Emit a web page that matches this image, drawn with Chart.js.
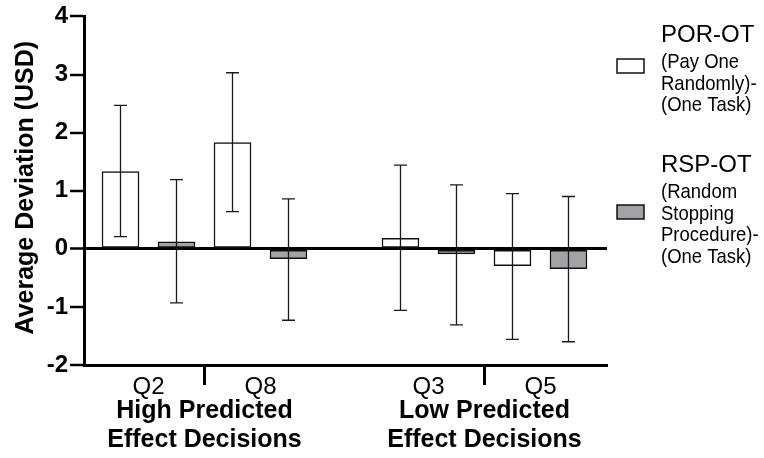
<!DOCTYPE html>
<html>
<head>
<meta charset="utf-8">
<script src="https://cdn.jsdelivr.net/npm/chart.js@4.4.1/dist/chart.umd.min.js"></script>
<style>
  html, body { margin: 0; padding: 0; background: #ffffff; }
  #wrap { width: 764px; height: 458px; }
</style>
</head>
<body>
<div id="wrap"><canvas id="c" width="764" height="458"></canvas></div>
<script>
// ---- data ----
const categories = ['Q2', 'Q8', 'Q3', 'Q5'];
const groupLabels = [['High Predicted', 'Effect Decisions'], ['Low Predicted', 'Effect Decisions']];
const seriesNames = ['POR-OT', 'RSP-OT'];
const seriesNotes = [['(Pay One', 'Randomly)-', '(One Task)'], ['(Random', 'Stopping', 'Procedure)-', '(One Task)']];
const porMean = [1.33, 1.83, 0.18, -0.29];
const porLow  = [0.21, 0.64, -1.06, -1.56];
const porHigh = [2.47, 3.03, 1.44, 0.95];
const rspMean = [0.12, -0.17, -0.09, -0.34];
const rspLow  = [-0.93, -1.23, -1.31, -1.60];
const rspHigh = [1.19, 0.86, 1.10, 0.90];
const yTicks = [-2, -1, 0, 1, 2, 3, 4];

// ---- layout helpers ----
const FONT = '"Liberation Sans", Arial, Helvetica, sans-serif';
const GRAY = '#a3a3a7';
// slot index for each category: pairs of bars, with one empty slot between the two groups
const slotOf = i => 2 * i + (i >= 2 ? 1 : 0);

const porData = categories.map((c, i) => ({ x: slotOf(i), y: porMean[i] }));
const rspData = categories.map((c, i) => ({ x: slotOf(i) + 1, y: rspMean[i] }));
const errs = [
  { low: porLow, high: porHigh },
  { low: rspLow, high: rspHigh }
];

const decorPlugin = {
  id: 'decor',
  afterDatasetsDraw(chart) {
    const ctx = chart.ctx;
    const ys = chart.scales.y;
    ctx.save();
    ctx.strokeStyle = '#1a1a1a';
    ctx.lineWidth = 1.3;
    chart.data.datasets.forEach((ds, di) => {
      const meta = chart.getDatasetMeta(di);
      meta.data.forEach((bar, i) => {
        const x = bar.x;
        const yl = ys.getPixelForValue(errs[di].low[i]);
        const yh = ys.getPixelForValue(errs[di].high[i]);
        ctx.beginPath();
        ctx.moveTo(x, yh); ctx.lineTo(x, yl);
        ctx.moveTo(x - 6.5, yh); ctx.lineTo(x + 6.5, yh);
        ctx.moveTo(x - 6.5, yl); ctx.lineTo(x + 6.5, yl);
        ctx.stroke();
      });
    });
    ctx.restore();
  },
  afterDraw(chart) {
    const ctx = chart.ctx;
    const xs = chart.scales.x;
    const area = chart.chartArea;
    ctx.save();
    ctx.fillStyle = '#000';
    ctx.font = '24px ' + FONT;
    ctx.textAlign = 'center';
    ctx.textBaseline = 'alphabetic';
    categories.forEach((c, i) => {
      ctx.fillText(c, xs.getPixelForValue(slotOf(i) + 0.5), area.bottom + 29);
    });
    [1, 3].forEach((gi, k) => {
      const xd = xs.getPixelForValue(slotOf(gi) - 0.5);
      ctx.strokeStyle = '#000';
      ctx.lineWidth = 3;
      ctx.beginPath();
      ctx.moveTo(xd, area.bottom);
      ctx.lineTo(xd, area.bottom + 20);
      ctx.stroke();
      ctx.font = 'bold 25px ' + FONT;
      ctx.fillText(groupLabels[k][0], xd, area.bottom + 53);
      ctx.fillText(groupLabels[k][1], xd, area.bottom + 82);
    });
    ctx.save();
    ctx.translate(33, (area.top + area.bottom) / 2 - 3);
    ctx.rotate(-Math.PI / 2);
    ctx.font = 'bold 25px ' + FONT;
    ctx.textAlign = 'center';
    ctx.fillText('Average Deviation (USD)', 0, 0);
    ctx.restore();
    const fills = ['#ffffff', GRAY];
    const boxTop = [59, 205];
    const titleBase = [42, 172];
    const noteBase = [68, 198];
    ctx.textAlign = 'left';
    [0, 1].forEach(s => {
      ctx.fillStyle = fills[s];
      ctx.fillRect(617, boxTop[s], 27, 14);
      ctx.strokeStyle = '#111';
      ctx.lineWidth = 1.5;
      ctx.strokeRect(617, boxTop[s], 27, 14);
      ctx.fillStyle = '#000';
      ctx.font = '24px ' + FONT;
      ctx.fillText(seriesNames[s], 661, titleBase[s]);
      ctx.font = '18.5px ' + FONT;
      seriesNotes[s].forEach((t, j) => {
        ctx.save();
        ctx.translate(661, noteBase[s] + j * 21.5);
        ctx.scale(1, 1.1);
        ctx.fillText(t, 0, 0);
        ctx.restore();
      });
    });
    ctx.restore();
  }
};

new Chart(document.getElementById('c'), {
  type: 'bar',
  data: {
    datasets: [
      { label: seriesNames[0], data: porData, backgroundColor: '#ffffff', borderColor: '#111', borderWidth: 1.5, borderSkipped: false, barThickness: 37, grouped: false },
      { label: seriesNames[1], data: rspData, backgroundColor: GRAY, borderColor: '#111', borderWidth: 1.5, borderSkipped: false, barThickness: 37, grouped: false }
    ]
  },
  options: {
    responsive: false,
    animation: false,
    devicePixelRatio: 1,
    layout: { padding: { left: 0, right: 157, top: 15, bottom: 0 } },
    plugins: { legend: { display: false }, tooltip: { enabled: false } },
    scales: {
      x: {
        type: 'linear',
        offset: false,
        min: -0.652,
        max: 8.688,
        grid: { display: false },
        ticks: { display: false },
        border: { display: true, width: 3, color: '#000' },
        afterFit(scale) { scale.height = 93; }
      },
      y: {
        min: -2,
        max: 4,
        afterBuildTicks(scale) { scale.ticks = yTicks.map(v => ({ value: v })); },
        ticks: {
          color: '#000',
          padding: 2,
          font: { family: FONT, size: 24, weight: 'bold' },
          callback: v => String(v)
        },
        grid: {
          drawOnChartArea: true,
          drawTicks: true,
          tickLength: 14,
          tickWidth: 2.5,
          tickColor: '#000',
          color: '#000',
          lineWidth: c => (c.tick && c.tick.value === 0 ? 3 : 0)
        },
        border: { display: true, width: 3, color: '#000' },
        afterFit(scale) { scale.width = 84; }
      }
    }
  },
  plugins: [decorPlugin]
});
</script>
</body>
</html>
